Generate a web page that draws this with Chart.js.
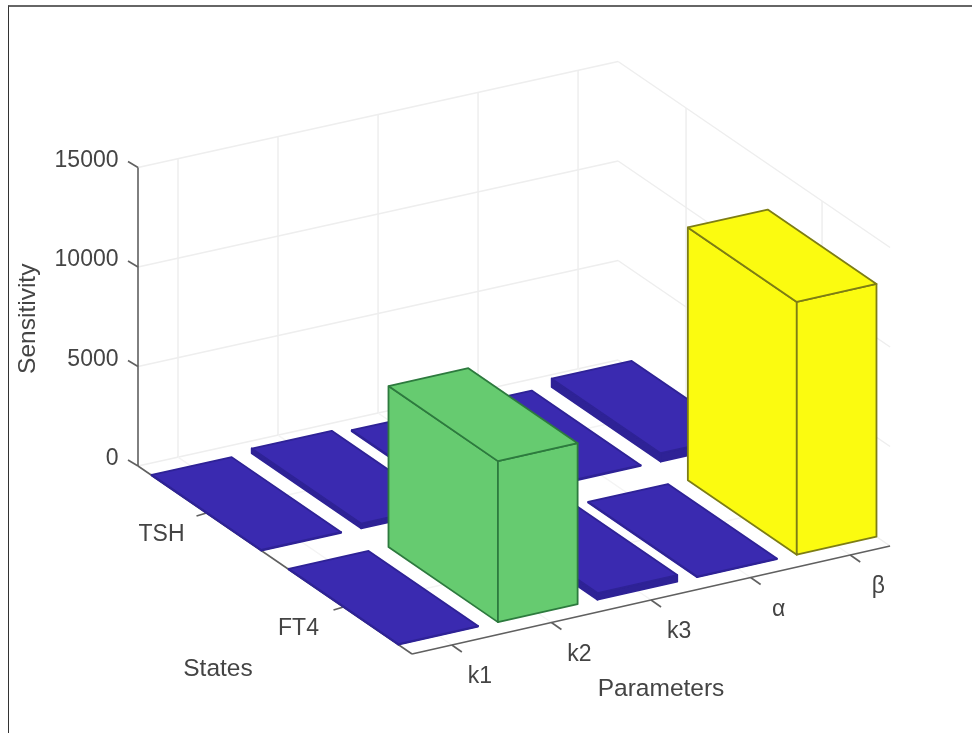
<!DOCTYPE html>
<html>
<head>
<meta charset="utf-8">
<title>Sensitivity</title>
<script src="https://cdn.jsdelivr.net/npm/chart.js@4"></script>
<style>
    html, body { margin: 0; padding: 0; background: #fff; overflow: hidden; }
    #frame { position: absolute; left: 8px; top: 5px; width: 970px; height: 740px;
             border-top: 2px solid #666; border-left: 1.5px solid #333; }
    #sensitivityChart { position: absolute; left: 0; top: 0; filter: blur(0.6px); }
</style>
</head>
<body>
<canvas id="sensitivityChart" width="972" height="733"></canvas>
<div id="frame"></div>
<script>
// values
const parameters = ['k1', 'k2', 'k3', 'α', 'β'];
const states = ['TSH', 'FT4'];
const tshValues = [30, 240, 50, 40, 420];
const ft4Values = [30, 8090, 330, 30, 12700];
const zTicks = [0, 5000, 10000, 15000];
const zTickLabels = ['0', '5000', '10000', '15000'];

const xLim = [0.6, 5.4];
const yLim = [0.5, 2.5];
const zMax = 15000;
const barHalf = 0.4;

// 3d view -> page pixels, fitted on the floor corners of the reference
function project(x, y, z) {
    const u = (x - xLim[0]) / (xLim[1] - xLim[0]);
    const v = (y - yLim[0]) / (yLim[1] - yLim[0]);
    const skew = u * (1 - v);
    return {
        x: 412 + 99.6 * (x - xLim[0]) + 137 * (y - yLim[1]) + 2 * skew,
        y: 654 - 22.5 * (x - xLim[0]) + 94 * (y - yLim[1]) + 2 * skew - 0.0199 * z
    };
}

function segment(a, b, color, width) {
    return {
        data: [a, b],
        showLine: true,
        borderColor: color,
        borderWidth: width,
        pointRadius: 0,
        fill: false
    };
}

function face(points, fillColor, edgeColor) {
    return {
        data: points.concat([points[0]]),
        showLine: true,
        borderColor: edgeColor,
        borderWidth: 1.8,
        backgroundColor: fillColor,
        pointRadius: 0,
        borderJoinStyle: 'round',
        fill: 'shape'
    };
}

function barStyle(value) {
    if (value > 10000) return { top: '#fbfb10', left: '#fbfb10', right: '#fbfb10', edge: '#7d7d14' };
    if (value > 5000) return { top: '#66cb70', left: '#66cb70', right: '#66cb70', edge: '#2d7a3e' };
    return { top: '#3a2ab0', left: '#2e2296', right: '#2e2296', edge: '#2e2296' };
}

function gridDatasets() {
    const grid = '#eeeeee';
    const floor = '#f4f4f4';
    const out = [];
    zTicks.forEach(z => {
        out.push(segment(project(xLim[0], yLim[0], z), project(xLim[1], yLim[0], z), grid, 1.5));
        out.push(segment(project(xLim[1], yLim[0], z), project(xLim[1], yLim[1], z), grid, 1.5));
    });
    parameters.forEach((p, i) => {
        const x = i + 1;
        out.push(segment(project(x, yLim[0], 0), project(x, yLim[0], zMax), grid, 1.5));
        out.push(segment(project(x, yLim[0], 0), project(x, yLim[1], 0), floor, 1.5));
    });
    states.forEach((s, j) => {
        const y = j + 1;
        out.push(segment(project(xLim[1], y, 0), project(xLim[1], y, zMax), grid, 1.5));
        out.push(segment(project(xLim[0], y, 0), project(xLim[1], y, 0), floor, 1.5));
    });
    return out;
}

function axisDatasets() {
    const axis = '#606060';
    const out = [
        segment(project(xLim[0], yLim[0], 0), project(xLim[0], yLim[0], zMax), axis, 1.6),
        segment(project(xLim[0], yLim[0], 0), project(xLim[0], yLim[1], 0), axis, 1.6),
        segment(project(xLim[0], yLim[1], 0), project(xLim[1], yLim[1], 0), axis, 1.6)
    ];
    zTicks.forEach(z => {
        const from = project(xLim[0], yLim[0], z);
        out.push(segment(from, { x: from.x - 10, y: from.y - 6 }, axis, 1.6));
    });
    parameters.forEach((p, i) => {
        const from = project(i + 1, yLim[1], 0);
        out.push(segment(from, { x: from.x + 10, y: from.y + 7 }, axis, 1.6));
    });
    states.forEach((s, j) => {
        const from = project(xLim[0], j + 1, 0);
        out.push(segment(from, { x: from.x - 10, y: from.y + 3 }, axis, 1.6));
    });
    return out;
}

function barDatasets(values, y) {
    const out = [];
    // far bars first, so the nearer ones cover them
    for (let i = values.length - 1; i >= 0; i--) {
        const z = values[i];
        const x0 = i + 1 - barHalf, x1 = i + 1 + barHalf;
        const y0 = y - barHalf, y1 = y + barHalf;
        const st = barStyle(z);
        out.push(face([project(x0, y0, 0), project(x0, y1, 0), project(x0, y1, z), project(x0, y0, z)], st.left, st.edge));
        out.push(face([project(x0, y1, 0), project(x1, y1, 0), project(x1, y1, z), project(x0, y1, z)], st.right, st.edge));
        out.push(face([project(x0, y0, z), project(x1, y0, z), project(x1, y1, z), project(x0, y1, z)], st.top, st.edge));
    }
    return out;
}

// canvas text, placed through the chart's scales
const textLabels = {
    id: 'textLabels',
    afterDatasetsDraw(chart) {
        const { ctx, scales } = chart;
        const put = (text, pos, dx, dy, font, align, angle) => {
            ctx.save();
            ctx.translate(scales.x.getPixelForValue(pos.x + dx), scales.y.getPixelForValue(pos.y + dy));
            if (angle) ctx.rotate(angle);
            ctx.font = font;
            ctx.fillStyle = '#444444';
            ctx.textAlign = align;
            ctx.textBaseline = 'middle';
            ctx.fillText(text, 0, 0);
            ctx.restore();
        };
        const tickFont = '23px "Liberation Sans"';
        const labelFont = '24.5px "Liberation Sans"';

        zTicks.forEach((z, k) => put(zTickLabels[k], project(xLim[0], yLim[0], z), -19.5, -7, tickFont, 'right'));
        parameters.forEach((p, i) => put(p, project(i + 1, yLim[1], 0), 28, 32, tickFont, 'center'));
        states.forEach((s, j) => put(s, project(xLim[0], j + 1, 0), -45, 22, tickFont, 'center'));

        put('Sensitivity', project(xLim[0], yLim[0], 7400), -110, 0, labelFont, 'center', -Math.PI / 2);
        put('States', project(xLim[0], 1.5, 0), -57, 109, labelFont, 'center');
        put('Parameters', project(3, yLim[1], 0), 10, 89, labelFont, 'center');
    }
};

document.addEventListener('DOMContentLoaded', function() {
    const layers = gridDatasets()
        .concat(axisDatasets())
        .concat(barDatasets(tshValues, 1))
        .concat(barDatasets(ft4Values, 2));

    // chart.js paints the first dataset last
    new Chart(document.getElementById('sensitivityChart'), {
        type: 'scatter',
        data: { datasets: layers.reverse() },
        plugins: [textLabels],
        options: {
            responsive: false,
            animation: false,
            layout: { padding: 0 },
            plugins: { legend: { display: false }, tooltip: { enabled: false } },
            scales: {
                x: { type: 'linear', min: 0, max: 972, display: false },
                y: { type: 'linear', min: 0, max: 733, reverse: true, display: false }
            }
        }
    });
});
</script>
</body>
</html>
